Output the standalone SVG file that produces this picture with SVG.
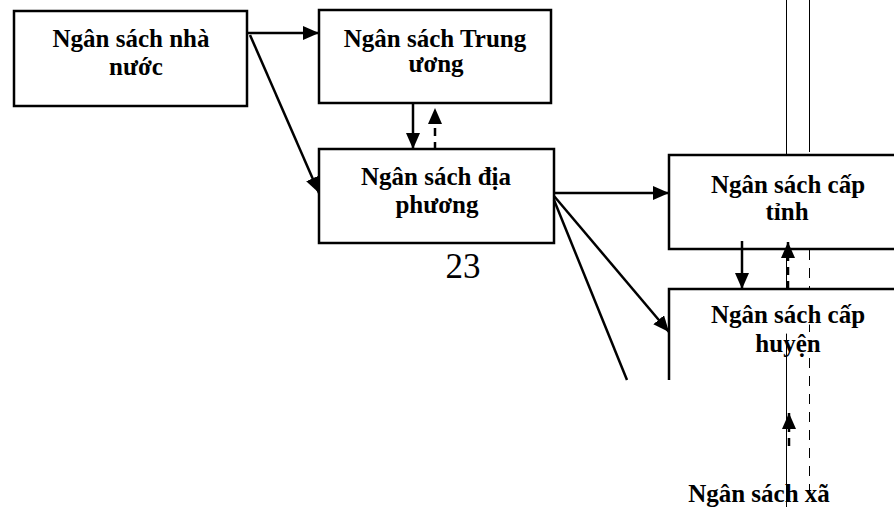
<svg xmlns="http://www.w3.org/2000/svg" width="894" height="507" viewBox="0 0 894 507">
<style>
.box{fill:#fff;stroke:#000;stroke-width:2.5}
.lbl{font-family:"Liberation Serif","Times New Roman",serif;font-size:25px;font-weight:bold;fill:#000;text-anchor:middle}
.c{stroke:#000;stroke-width:2.5;fill:none}
.d{stroke:#000;stroke-width:2.5;fill:none;stroke-dasharray:8 6}
.thin{stroke:#000;stroke-width:1;fill:none}
.thind{stroke:#000;stroke-width:1;fill:none;stroke-dasharray:10 8}
</style>
<defs>
<marker id="ah" markerUnits="userSpaceOnUse" markerWidth="16" markerHeight="14" refX="16" refY="7" orient="auto">
<path d="M0,0 L16,7 L0,14 z" fill="#000"/>
</marker>
</defs>
<rect width="894" height="507" fill="#fff"/>
<g id="guides">
<line class="thin" x1="786.5" y1="0" x2="786.5" y2="507"/>
<line class="thin" x1="809.5" y1="0" x2="809.5" y2="152"/>
<line class="thind" x1="809.5" y1="160" x2="809.5" y2="490"/>
</g>
<g id="n1">
<rect class="box" x="14" y="11" width="233" height="95"/>
<text class="lbl" x="131" y="47">Ngân sách nhà</text>
<text class="lbl" x="136" y="75">nước</text>
</g>
<g id="n2">
<rect class="box" x="319" y="10" width="232" height="93"/>
<text class="lbl" x="435" y="47">Ngân sách Trung</text>
<text class="lbl" x="436" y="72">ương</text>
</g>
<g id="n3">
<rect class="box" x="319" y="149" width="235" height="94"/>
<text class="lbl" x="436" y="185">Ngân sách địa</text>
<text class="lbl" x="437" y="213">phương</text>
</g>
<g id="n4">
<rect class="box" x="669" y="155" width="240" height="94"/>
<text class="lbl" x="788" y="193">Ngân sách cấp</text>
<text class="lbl" x="787" y="220">tỉnh</text>
</g>
<g id="n5">
<path class="box" d="M669,380 V289 H900" fill="none"/>
<text class="lbl" x="788" y="323">Ngân sách cấp</text>
<text class="lbl" x="788" y="352">huyện</text>
</g>
<g id="n6">
<text class="lbl" x="759" y="502">Ngân sách xã</text>
</g>
<g id="page">
<text x="463" y="278" font-family="Liberation Serif,'Times New Roman',serif" font-size="35" text-anchor="middle" fill="#000">23</text>
</g>
<g id="connectors">
<line class="c" x1="248" y1="33" x2="319" y2="33" marker-end="url(#ah)"/>
<line class="c" x1="250" y1="35" x2="319" y2="193" marker-end="url(#ah)"/>
<line class="c" x1="413" y1="103" x2="413" y2="149" marker-end="url(#ah)"/>
<line class="d" x1="435" y1="150" x2="435" y2="108" marker-end="url(#ah)"/>
<line class="c" x1="554" y1="193" x2="669" y2="193" marker-end="url(#ah)"/>
<line class="c" x1="554" y1="196" x2="669" y2="332" marker-end="url(#ah)"/>
<line class="c" x1="554" y1="200" x2="627" y2="380"/>
<line class="c" x1="742" y1="241" x2="742" y2="289" marker-end="url(#ah)"/>
<line class="d" x1="788" y1="289" x2="788" y2="242" marker-end="url(#ah)"/>
<line class="d" x1="789" y1="446" x2="789" y2="413" marker-end="url(#ah)"/>
</g>
</svg>
